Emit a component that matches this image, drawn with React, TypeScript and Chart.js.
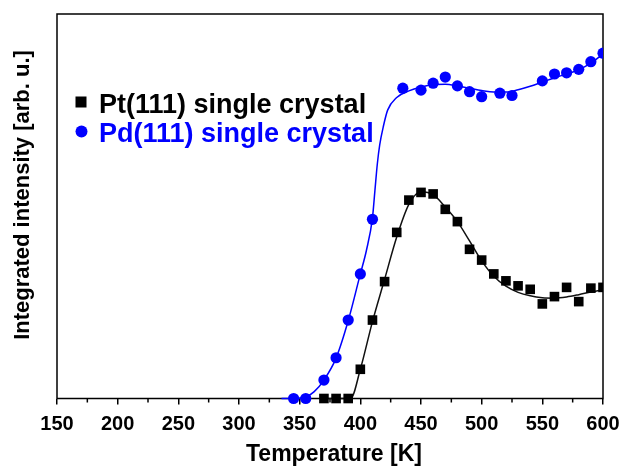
import React, { useEffect, useRef } from "react";
import { Chart, registerables } from "chart.js";
Chart.register(...registerables);

// Measured data (Temperature [K] vs. integrated intensity, arbitrary units 0-100)
const ptTemps = [370, 380, 390, 400, 410, 420, 430, 440, 450, 460, 470, 480, 490, 500, 510, 520, 530, 540, 550, 560, 570, 580, 590, 600];
const ptValues = [0, 0, 0, 7.6, 20.4, 30.4, 43.2, 51.6, 53.6, 53.2, 49.2, 46.0, 38.8, 36.0, 32.4, 30.6, 29.3, 28.4, 24.6, 26.5, 28.9, 25.2, 28.7, 28.9];

const pdTemps = [345, 355, 370, 380, 390, 400, 410, 435, 450, 460, 470, 480, 490, 500, 515, 525, 550, 560, 570, 580, 590, 600];
const pdValues = [0, 0, 4.8, 10.6, 20.4, 32.4, 46.6, 80.7, 80.2, 82.0, 83.6, 81.3, 79.8, 78.5, 79.4, 78.8, 82.6, 84.4, 84.7, 85.6, 87.6, 89.8];

// Fitted curves
const ptFitTemps = [370, 392, 400, 410, 420, 430, 440, 450, 460, 470, 480, 490, 500, 510, 520, 530, 540, 550, 560, 570, 580, 590, 600];
const ptFitValues = [0, 0, 7.6, 20, 31, 42, 50.5, 53.8, 53, 49.8, 46, 41, 35.8, 31.8, 29.2, 27.6, 26.7, 26.2, 26.1, 26.4, 27, 27.7, 28.3];

const pdFitTemps = [335, 345, 355, 362, 370, 380, 390, 400, 405, 410, 412, 414, 416, 419, 422.5, 430, 440, 450, 460, 470, 480, 490, 500, 510, 520, 530, 540, 550, 560, 570, 580, 590, 600];
const pdFitValues = [0, 0, 0.4, 1.8, 4.8, 10.5, 20.2, 32.4, 38.5, 47, 54, 61, 66, 70.8, 75, 78.3, 80, 81, 81.6, 81.7, 81.3, 80.7, 80.1, 79.7, 79.7, 80.3, 81.2, 82.3, 83.4, 84.4, 85.5, 87.2, 89.6];

const xMin = 150;
const xMax = 600;
const xStep = 50;
const minorTicks = [175, 225, 275, 325, 375, 425, 475, 525, 575];

const seriesLabels = ["Pt(111) single crystal", "Pd(111) single crystal"];
const xTitle = "Temperature [K]";
const yTitle = "Integrated intensity [arb. u.]";

const BLUE = "#0000ff";
const BLACK = "#000000";
const FONT = "'Liberation Sans', Arial, sans-serif";

const toXY = (xs: number[], ys: number[]) => xs.map((x, i) => ({ x, y: ys[i] }));

const decorPlugin = {
  id: "decor",
  beforeDatasetsDraw(chart: any) {
    const { ctx, chartArea: a, scales } = chart;
    const x = scales.x;
    ctx.save();
    ctx.strokeStyle = BLACK;
    ctx.lineWidth = 1.5;
    ctx.strokeRect(a.left, a.top, a.right - a.left, a.bottom - a.top);
    for (const v of minorTicks) {
      const px = x.getPixelForValue(v);
      ctx.beginPath();
      ctx.moveTo(px, a.bottom);
      ctx.lineTo(px, a.bottom + 4);
      ctx.stroke();
    }
    ctx.restore();
  },
  afterDraw(chart: any) {
    const { ctx, chartArea: a } = chart;
    ctx.save();
    // axis titles
    ctx.fillStyle = BLACK;
    ctx.font = `bold 23px ${FONT}`;
    ctx.textAlign = "center";
    ctx.textBaseline = "alphabetic";
    ctx.fillText(xTitle, 334, 461);
    ctx.save();
    ctx.translate(29, 195);
    ctx.rotate(-Math.PI / 2);
    ctx.font = `bold 22px ${FONT}`;
    ctx.fillText(yTitle, 0, 0);
    ctx.restore();

    // legend
    const lx = a.left + 24;
    ctx.textAlign = "left";
    ctx.font = `bold 27px ${FONT}`;
    ctx.fillStyle = BLACK;
    ctx.fillRect(lx - 5.5, a.top + 88 - 5.5, 11, 11);
    ctx.fillText(seriesLabels[0], a.left + 42, a.top + 99);
    ctx.fillStyle = BLUE;
    ctx.beginPath();
    ctx.arc(lx + 0.5, a.top + 117.5, 6, 0, Math.PI * 2);
    ctx.fill();
    ctx.fillText(seriesLabels[1], a.left + 42, a.top + 128);
    ctx.restore();
  },
};

export default function App() {
  const canvasRef = useRef<HTMLCanvasElement | null>(null);

  useEffect(() => {
    if (!canvasRef.current) return;
    const clip = { left: false, top: false, right: 0, bottom: false } as any;
    const chart = new Chart(canvasRef.current, {
      type: "scatter",
      data: {
        datasets: [
          {
            label: seriesLabels[0],
            data: toXY(ptTemps, ptValues),
            pointStyle: "rect",
            pointRadius: 6.8,
            backgroundColor: BLACK,
            borderColor: BLACK,
            borderWidth: 0,
            showLine: false,
            order: 0,
            clip,
          },
          {
            label: seriesLabels[1],
            data: toXY(pdTemps, pdValues),
            pointStyle: "circle",
            pointRadius: 5.6,
            backgroundColor: BLUE,
            borderColor: BLUE,
            borderWidth: 0,
            showLine: false,
            order: 0,
            clip,
          },
          {
            label: "Pt fit",
            data: toXY(ptFitTemps, ptFitValues),
            showLine: true,
            pointRadius: 0,
            borderColor: "#111111",
            borderWidth: 1.5,
            cubicInterpolationMode: "monotone",
            order: 1,
            clip,
          },
          {
            label: "Pd fit",
            data: toXY(pdFitTemps, pdFitValues),
            showLine: true,
            pointRadius: 0,
            borderColor: BLUE,
            borderWidth: 1.5,
            cubicInterpolationMode: "monotone",
            order: 1,
            clip,
          },
        ] as any,
      },
      options: {
        animation: false,
        responsive: false,
        devicePixelRatio: 1,
        events: [],
        layout: { padding: { left: 0, right: 18, top: 14, bottom: 0 } },
        plugins: {
          legend: { display: false },
          tooltip: { enabled: false },
        },
        scales: {
          x: {
            type: "linear",
            min: xMin,
            max: xMax,
            afterFit: (s: any) => {
              s.height = 67.5;
              s.paddingLeft = 0;
              s.paddingRight = 0;
            },
            ticks: {
              stepSize: xStep,
              color: BLACK,
              padding: 8,
              maxRotation: 0,
              font: { family: FONT, size: 20, weight: "bold" },
            },
            grid: {
              display: true,
              drawOnChartArea: false,
              drawTicks: true,
              tickLength: 6,
              color: BLACK,
              lineWidth: 1.5,
            },
            border: { display: false },
          },
          y: {
            type: "linear",
            min: 0,
            max: 100,
            afterFit: (s: any) => {
              s.width = 57;
              s.paddingTop = 0;
              s.paddingBottom = 0;
            },
            ticks: { display: false },
            grid: { display: false },
            border: { display: false },
          },
        },
      } as any,
      plugins: [decorPlugin],
    });
    return () => chart.destroy();
  }, []);

  return (
    <div style={{ position: "fixed", left: 0, top: 0, width: 621, height: 466, background: "#fff" }}>
      <canvas ref={canvasRef} width={621} height={466} style={{ width: 621, height: 466 }} />
    </div>
  );
}
